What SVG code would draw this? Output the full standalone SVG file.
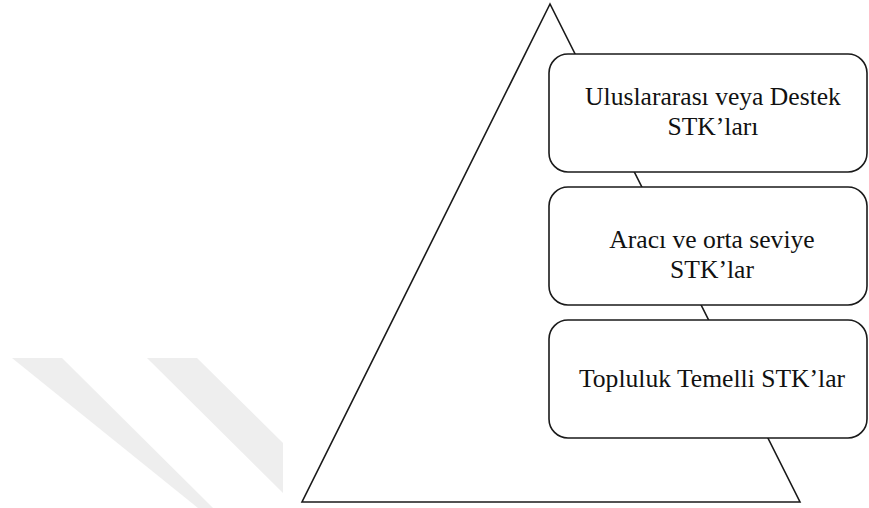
<svg xmlns="http://www.w3.org/2000/svg" width="869" height="508" viewBox="0 0 869 508">
  <style>
    .box { fill: #ffffff; stroke: #1a1a1a; stroke-width: 1.6; }
    .lbl { font-family: "Liberation Serif", "Times New Roman", serif; font-size: 25.6px; fill: #111111; text-anchor: middle; }
    .wm { fill: #eeeeee; }
  </style>
  <rect x="0" y="0" width="869" height="508" fill="#ffffff"/>
  <g id="watermark">
    <polygon class="wm" points="12,358 62,358 213,508 198,508"/>
    <polygon class="wm" points="147,358 197,358 283,443 283,493"/>
  </g>
  <g id="pyramid">
    <polygon points="550,4 302,502 800,502" fill="none" stroke="#1a1a1a" stroke-width="1.6" stroke-linejoin="miter"/>
  </g>
  <g id="connectors"></g>
  <g id="node-uluslararasi">
    <rect class="box" x="549" y="54" width="318" height="118" rx="19" ry="19"/>
    <text class="lbl" x="713" y="105">Uluslararası veya Destek</text>
    <text class="lbl" x="713" y="135">STK’ları</text>
  </g>
  <g id="node-araci">
    <rect class="box" x="549" y="187" width="318" height="118" rx="19" ry="19"/>
    <text class="lbl" x="712" y="248">Aracı ve orta seviye</text>
    <text class="lbl" x="712" y="278">STK’lar</text>
  </g>
  <g id="node-topluluk">
    <rect class="box" x="549" y="320" width="318" height="118" rx="19" ry="19"/>
    <text class="lbl" x="712" y="387">Topluluk Temelli STK’lar</text>
  </g>
</svg>
